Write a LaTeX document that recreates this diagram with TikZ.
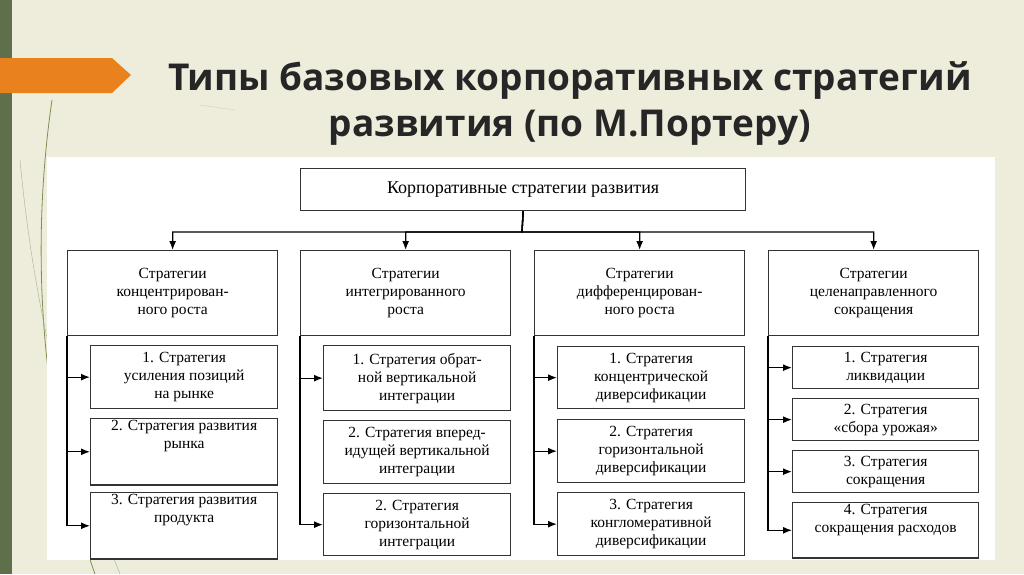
\documentclass[tikz,border=0pt]{standalone}
\usepackage{fontspec}
\setmainfont{Liberation Serif}
\newfontfamily\titlefont{Open Sans}
\usetikzlibrary{arrows.meta}
\definecolor{bgbeige}{HTML}{EEEDDC}
\definecolor{stripgreen}{HTML}{5F6F4B}
\definecolor{arroworange}{HTML}{E9821C}
\definecolor{titlegray}{HTML}{262626}
\definecolor{grassgreen}{HTML}{7E8F55}
\tikzset{
	box/.style = {draw, line width=1.3pt, draw=black!80, rectangle, anchor=north west,
		align=center, inner sep=2pt, font=\fontsize{15.5}{18}\selectfont},
	arr/.style = {-{Latex[length=9pt,width=7pt]}, line width=1.3pt}
}
\begin{document}
\begin{tikzpicture}[x=1pt, y=-1pt]
	\useasboundingbox (0,0) rectangle (1024,574);
	% background
	\fill[bgbeige] (0,0) rectangle (1024,574);
	\fill[stripgreen] (0,0) rectangle (12,574);
	\draw[grassgreen, thick] (52,100) .. controls (30,250) and (40,420) .. (95,574);
	\draw[grassgreen!70, thin] (20,160) .. controls (35,320) and (70,450) .. (120,574);
	\draw[grassgreen!40, thin] (200,105) -- (235,110);
	\fill[arroworange] (0,58) -- (112,58) -- (131,75) -- (112,93) -- (0,93) -- cycle;
	% title
	\node[font=\titlefont\bfseries\fontsize{37}{46}\selectfont,
		text=titlegray, align=center] (title) at (570,103)
		{Типы базовых корпоративных стратегий\\развития (по М.Портеру)};
	\fill[white] (47,157) rectangle (995,560);

	% top level
	\node[box, minimum width=445, minimum height=42,
		font=\fontsize{18}{21}\selectfont] (top) at (300,168)
		{Корпоративные стратегии развития};
	\coordinate (bus) at (522,232);

	% columns
	\node[box, minimum width=210, minimum height=85] (c1) at (67,250)
		{Стратегии\\концентрирован-\\ного роста};
	\node[box, minimum width=210, minimum height=85] (c2) at (300,250)
		{Стратегии\\интегрированного\\роста};
	\node[box, minimum width=210, minimum height=85] (c3) at (534,250)
		{Стратегии\\дифференцирован-\\ного роста};
	\node[box, minimum width=210, minimum height=85] (c4) at (768,250)
		{Стратегии\\целенаправленного\\сокращения};

	\foreach \c in {c1,c2,c3,c4}
		\draw[arr] (top.south) -- (bus) -| (\c.north);

	% column 1
	\node[box, minimum width=187, minimum height=63] (s11) at (90,345)
		{1. Стратегия\\усиления позиций\\на рынке};
	\node[box, minimum width=187, minimum height=64] (s12) at (90,418)
		{2. Стратегия развития\\рынка\\[16pt]};
	\node[box, minimum width=187, minimum height=63] (s13) at (90,492)
		{3. Стратегия развития\\продукта\\[16pt]};

	% column 2
	\node[box, minimum width=187, minimum height=65] (s21) at (323,345)
		{1. Стратегия обрат-\\ной вертикальной\\интеграции};
	\node[box, minimum width=187, minimum height=63] (s22) at (323,420)
		{2. Стратегия вперед-\\идущей вертикальной\\интеграции};
	\node[box, minimum width=187, minimum height=62] (s23) at (323,493)
		{2. Стратегия\\горизонтальной\\интеграции};

	% column 3
	\node[box, minimum width=187, minimum height=62] (s31) at (557,346)
		{1. Стратегия\\концентрической\\диверсификации};
	\node[box, minimum width=187, minimum height=63] (s32) at (557,419)
		{2. Стратегия\\горизонтальной\\диверсификации};
	\node[box, minimum width=187, minimum height=63] (s33) at (557,492)
		{3. Стратегия\\конгломеративной\\диверсификации};

	% column 4
	\node[box, minimum width=186, minimum height=42] (s41) at (792,346)
		{1. Стратегия\\ликвидации};
	\node[box, minimum width=186, minimum height=42] (s42) at (792,398)
		{2. Стратегия\\«сбора урожая»};
	\node[box, minimum width=186, minimum height=42] (s43) at (792,450)
		{3. Стратегия\\сокращения};
	\node[box, minimum width=186, minimum height=53] (s44) at (792,502)
		{4. Стратегия\\сокращения расходов\\[5pt]};

	% branches
	\foreach \s in {s11,s12,s13}
		\draw[arr] (c1.south west) |- (\s.west);
	\foreach \s in {s21,s23}
		\draw[arr] (c2.south west) |- (\s.west);
	\foreach \s in {s31,s32,s33}
		\draw[arr] (c3.south west) |- (\s.west);
	\foreach \s in {s41,s42,s43,s44}
		\draw[arr] (c4.south west) |- (\s.west);
\end{tikzpicture}
\end{document}
